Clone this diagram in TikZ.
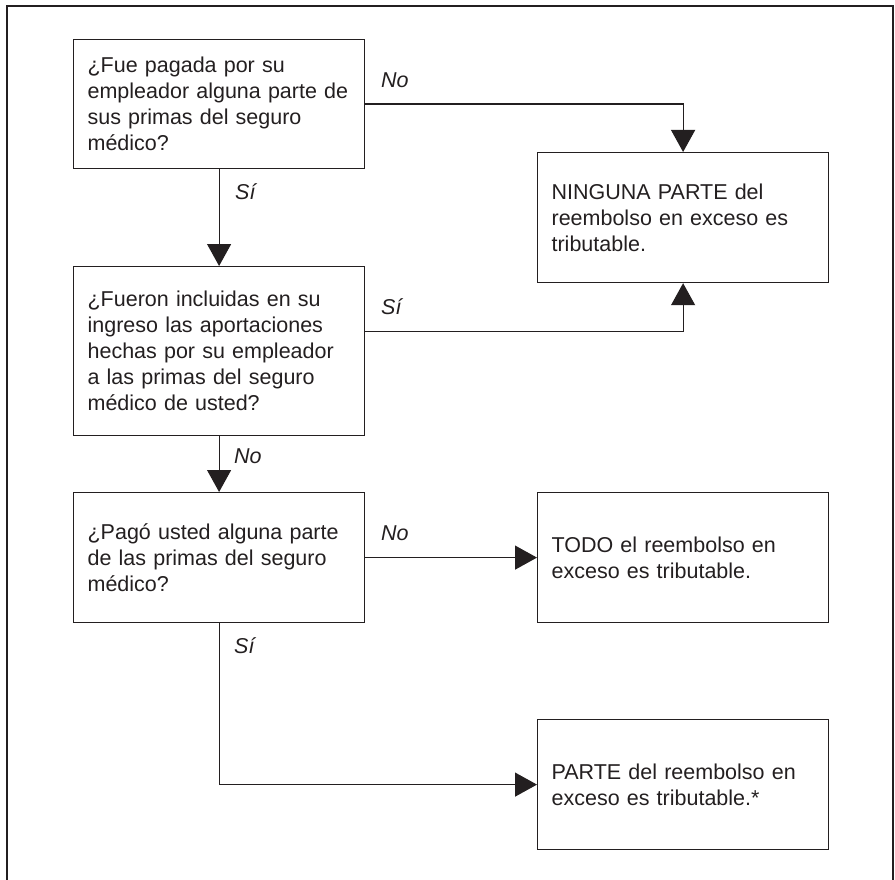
\documentclass[tikz,border=0pt]{standalone}
\usepackage{fontspec}
\setmainfont{Liberation Sans}
\usepackage{xcolor}
\usepackage{tikz}
\usetikzlibrary{arrows.meta}
\definecolor{ink}{HTML}{231F20}
\tikzset{
	flowbox/.style = {draw = ink, text = ink, line width = 1.2pt, align = left, text width = 263pt, inner xsep = 14pt, inner ysep = 0pt, minimum width = 291pt, font = \fontsize{21.5}{26}\selectfont},
	flowarrow/.style = {draw = ink, line width = 1.2pt, -{Triangle[length = 22pt, width = 24pt]}},
	answer/.style = {anchor = base west, inner sep = 0pt, text = ink, font = \fontsize{21.5}{26}\selectfont\itshape}
}
\newcommand{\flowNode}[5]{
	\node[below right, flowbox, minimum height = #4] (#1) at (#2, #3) {#5};
}
\newcommand{\answerNode}[4]{
	\node[answer] (#1) at (#2, #3) {#4};
}
\begin{document}
\begin{tikzpicture}[x = 1pt, y = -1pt]%
		\useasboundingbox (0, 0) rectangle (895, 880);
		\draw[ink, line width = 1.2pt] (7, 880) -- (7, 6) -- (893, 6) -- (893, 880);

		% questions
		\flowNode{qEmployer}{73}{39}{129pt}{¿Fue pagada por su\\empleador alguna parte de\\sus primas del seguro\\médico?}
		\flowNode{qIncluded}{73}{266}{169pt}{¿Fueron incluidas en su\\ingreso las aportaciones\\hechas por su empleador\\a las primas del seguro\\médico de usted?}
		\flowNode{qYou}{73}{492}{130pt}{¿Pagó usted alguna parte\\de las primas del seguro\\médico?}

		% results
		\flowNode{rNone}{537}{152}{130pt}{NINGUNA PARTE del\\reembolso en exceso es\\tributable.}
		\flowNode{rAll}{537}{492}{130pt}{TODO el reembolso en\\exceso es tributable.}
		\flowNode{rPart}{537}{719}{130pt}{PARTE del reembolso en\\exceso es tributable.*}

		% connectors
		\draw[flowarrow] (qEmployer.east) -| (rNone.north);
		\draw[flowarrow] (qEmployer.south) -- (qIncluded.north);
		\draw[flowarrow] ([yshift = 19.5pt]qIncluded.east) -| (rNone.south);
		\draw[flowarrow] (qIncluded.south) -- (qYou.north);
		\draw[flowarrow] (qYou.east) -- (rAll.west);
		\draw[flowarrow] (qYou.south) |- (rPart.west);

		% answers
		\answerNode{aEmployerNo}{381}{88}{No}
		\answerNode{aEmployerYes}{235}{200}{Sí}
		\answerNode{aIncludedYes}{381}{314}{Sí}
		\answerNode{aIncludedNo}{234}{463}{No}
		\answerNode{aYouNo}{381}{540}{No}
		\answerNode{aYouYes}{234}{653}{Sí}
	\end{tikzpicture}
\end{document}
